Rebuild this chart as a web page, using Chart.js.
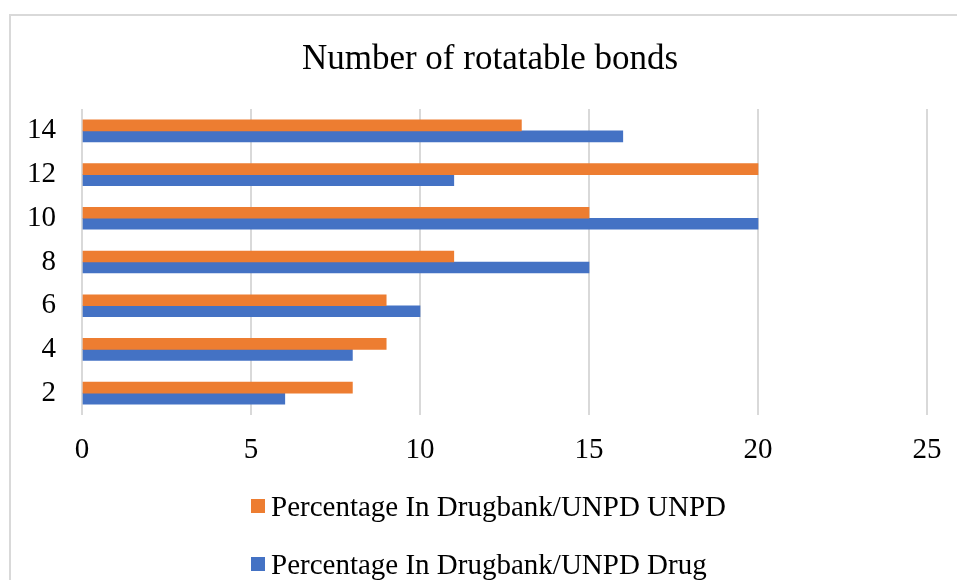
<!DOCTYPE html>
<html>
<head>
<meta charset="utf-8">
<script src="https://cdn.jsdelivr.net/npm/chart.js@4.4.0/dist/chart.umd.min.js"></script>
<style>
  html, body { margin: 0; padding: 0; width: 957px; height: 580px; overflow: hidden; background: #fff; }
  #frame { position: absolute; left: 9px; top: 14px; width: 962px; height: 600px; border: 2px solid #d9d9d9; background: #fff; }
  #wrap { position: absolute; left: 0; top: 0; width: 960px; height: 564px; }
  #legend { position: absolute; left: 251px; top: 0; font-family: 'Liberation Serif', 'Times New Roman', serif; font-size: 29px; color: #000; }
  .item { position: absolute; left: 0; display: flex; align-items: center; height: 30px; white-space: nowrap; }
  .box { width: 14px; height: 14px; margin-right: 6px; }
</style>
</head>
<body>
<div id="frame">
  <div id="wrap"><canvas id="grafico"></canvas></div>
</div>
<div id="legend"></div>
<script>
// dados
const categorias = ["14", "12", "10", "8", "6", "4", "2"];
const valoresUNPD = [13, 20, 15, 11, 9, 9, 8];
const valoresDrug = [16, 11, 20, 15, 10, 8, 6];
const nomesSeries = ["Percentage In Drugbank/UNPD UNPD", "Percentage In Drugbank/UNPD Drug"];
const ticksX = [0, 5, 10, 15, 20, 25];
const titulo = "Number of rotatable bonds";

const corLaranja = "#ED7D31";
const corAzul = "#4472C4";
const fonte = "'Liberation Serif', 'Times New Roman', serif";

// centra o título sobre a moldura e não sobre a área do canvas com padding
const centrarTitulo = {
  id: "centrarTitulo",
  afterLayout(chart) {
    if (chart.titleBlock) chart.titleBlock.left = 42;
  },
};

const ctx = document.getElementById("grafico").getContext("2d");
const chart = new Chart(ctx, {
  type: "bar",
  data: {
    labels: categorias,
    datasets: [
      { label: nomesSeries[0], data: valoresUNPD, backgroundColor: corLaranja, barThickness: 11 },
      { label: nomesSeries[1], data: valoresDrug, backgroundColor: corAzul, barThickness: 11 },
    ],
  },
  plugins: [centrarTitulo],
  options: {
    indexAxis: "y",
    responsive: true,
    maintainAspectRatio: false,
    animation: false,
    layout: { padding: { left: 0, right: 44, top: 0, bottom: 0 } },
    plugins: {
      legend: { display: false },
      tooltip: { enabled: false },
      title: {
        display: true,
        text: titulo,
        color: "#000",
        font: { family: fonte, size: 35, weight: "normal" },
        padding: { top: 23, bottom: 28 },
      },
    },
    scales: {
      x: {
        min: 0,
        max: 25,
        afterBuildTicks: (scale) => { scale.ticks = ticksX.map((v) => ({ value: v })); },
        afterFit: (scale) => { scale.height = 165; },
        grid: { color: "#d9d9d9", lineWidth: 2, drawTicks: false },
        border: { display: false },
        ticks: { color: "#000", padding: 18, font: { family: fonte, size: 29 } },
      },
      y: {
        afterFit: (scale) => { scale.width = 71; },
        grid: { display: false, drawTicks: false },
        border: { display: false },
        ticks: { color: "#000", padding: 26, font: { family: fonte, size: 29 } },
      },
    },
  },
});

// legenda em html (uma linha por série, alinhadas à esquerda)
const legenda = document.getElementById("legend");
const topos = [491, 549];
chart.data.datasets.forEach((ds, i) => {
  const item = document.createElement("div");
  item.className = "item";
  item.style.top = topos[i] + "px";
  const box = document.createElement("span");
  box.className = "box";
  box.style.background = ds.backgroundColor;
  const txt = document.createElement("span");
  txt.textContent = ds.label;
  item.appendChild(box);
  item.appendChild(txt);
  legenda.appendChild(item);
});
</script>
</body>
</html>
